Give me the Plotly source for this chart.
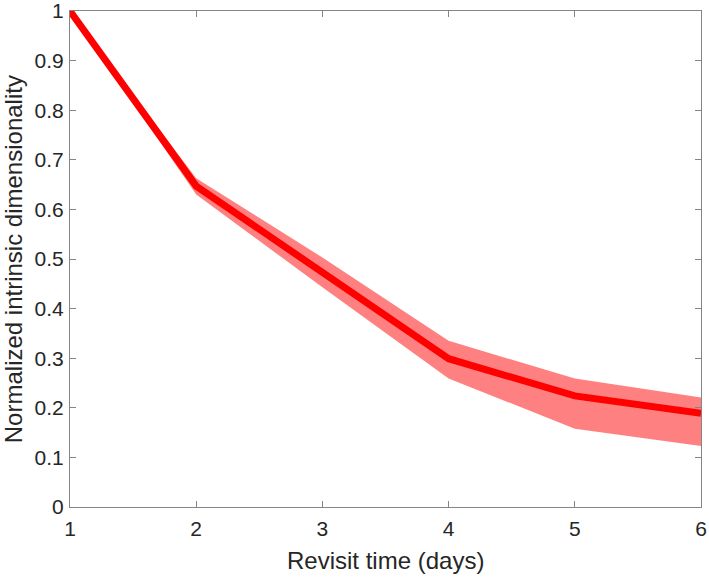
import plotly.graph_objects as go

revisit_days = [1, 2, 3, 4, 5, 6]
mean_dim = [1.0, 0.647, 0.473, 0.299, 0.224, 0.189]
upper_dim = [1.0, 0.663, 0.503, 0.335, 0.259, 0.221]
lower_dim = [1.0, 0.630, 0.443, 0.259, 0.158, 0.123]

x_ticks = [1, 2, 3, 4, 5, 6]
y_ticks = [0, 0.1, 0.2, 0.3, 0.4, 0.5, 0.6, 0.7, 0.8, 0.9, 1]
y_tick_labels = ["0", "0.1", "0.2", "0.3", "0.4", "0.5", "0.6", "0.7", "0.8", "0.9", "1"]

FONT = "Liberation Sans, Arial, Helvetica, sans-serif"
TXT = "#262626"

fig = go.Figure()
fig.add_trace(go.Scatter(
    x=revisit_days + revisit_days[::-1],
    y=upper_dim + lower_dim[::-1],
    fill="toself", fillcolor="rgb(255,128,128)",
    line=dict(width=0), mode="lines", hoverinfo="skip", showlegend=False))
fig.add_trace(go.Scatter(
    x=revisit_days, y=mean_dim, mode="lines",
    line=dict(color="rgb(255,0,0)", width=7), showlegend=False))

axis_common = dict(
    showline=True, linecolor="#858585", linewidth=1, mirror="ticks",
    ticks="inside", ticklen=6, tickcolor="#858585",
    showgrid=False, zeroline=False, automargin=False,
    ticklabeloverflow="allow",
    tickfont=dict(family=FONT, size=21, color=TXT),
)

fig.update_layout(
    width=709, height=577,
    margin=dict(l=70, r=8, t=11, b=70),
    paper_bgcolor="white", plot_bgcolor="white",
    xaxis=dict(range=[1, 6], tickvals=x_ticks, ticklabelstandoff=3, **axis_common),
    yaxis=dict(range=[0, 1], tickvals=y_ticks, ticktext=y_tick_labels, ticklabelstandoff=1, **axis_common),
    annotations=[
        dict(text="Revisit time (days)", xref="paper", yref="paper",
             x=0.5, y=-0.108, xanchor="center", yanchor="middle", showarrow=False,
             font=dict(family=FONT, size=24, color=TXT)),
        dict(text="Normalized intrinsic dimensionality", xref="paper", yref="paper",
             x=-0.09, y=0.5, xanchor="center", yanchor="middle", textangle=-90, showarrow=False,
             font=dict(family=FONT, size=24, color=TXT)),
    ],
)

fig.write_html(
    "out.html",
    config={"displayModeBar": False},
    post_script="document.body.style.margin='0px';document.body.style.overflow='hidden';",
)
